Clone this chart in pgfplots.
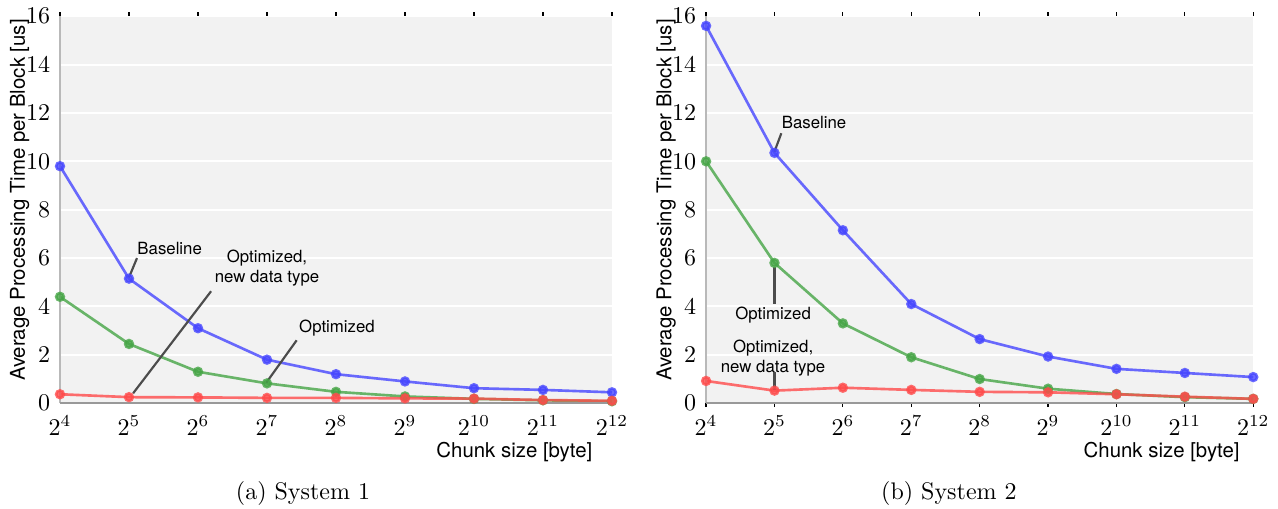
\documentclass[border=0pt]{standalone}
\usepackage{fontspec}
\usepackage{pgfplots}
\pgfplotsset{compat=1.18}
\usetikzlibrary{calc}
\newfontfamily\hv{TeX Gyre Heros}
\definecolor{cblue}{RGB}{70,70,255}
\definecolor{cgreen}{RGB}{70,165,70}
\definecolor{cred}{RGB}{255,75,75}
\definecolor{bggray}{RGB}{242,242,242}

\tikzset{
  ann/.style={draw=black!70, line width=0.9pt},
  lbl/.style={font=\hv\fontsize{7}{8.4}\selectfont, inner sep=0pt},
  big/.style={font=\hv\fontsize{8.5}{10}\selectfont, inner sep=0pt},
}
\pgfplotsset{
  sysplot/.style={
    scale only axis, height=161.25pt,
    xmin=4, xmax=12, ymin=0, ymax=16,
    xtick={4,...,12},
    xticklabels={$2^{4}$,$2^{5}$,$2^{6}$,$2^{7}$,$2^{8}$,$2^{9}$,$2^{10}$,$2^{11}$,$2^{12}$},
    ytick={0,2,...,16},
    axis background/.style={fill=bggray},
    ymajorgrids, grid style={white, line width=0.8pt},
    axis line style={draw=none},
    tick align=outside, major tick length=1.6pt,
    xtick style={black, line width=0.5pt},
    ytick style={draw=none},
    xticklabel pos=left,
    tick label style={font=\normalsize},
    xticklabel style={yshift=0pt},
    yticklabel style={xshift=1pt},
    ylabel={\hv Average Processing Time per Block [us]},
    ylabel style={font=\fontsize{8.5}{10}\selectfont, at={(rel axis cs:-0.073,0.525)}, anchor=center},
    every axis plot/.append style={line width=1.1pt, mark=*, mark size=1.6pt, opacity=0.8},
    clip=false,
    execute at end axis={
      \draw[gray!55, line width=0.6pt] (rel axis cs:0,0) -- (rel axis cs:0,1);
      \draw[gray!80, line width=0.8pt] (rel axis cs:0,0) -- (rel axis cs:1,0);
    },
  },
}

\begin{document}
\begin{tikzpicture}
% (a) System 1
\begin{axis}[sysplot, width=230pt, xtick pos=right]
\addplot[cblue, mark options={fill=cblue}] coordinates {(4,9.8)(5,5.15)(6,3.1)(7,1.8)(8,1.2)(9,0.9)(10,0.62)(11,0.55)(12,0.45)};
\addplot[cgreen, mark options={fill=cgreen}] coordinates {(4,4.4)(5,2.45)(6,1.3)(7,0.82)(8,0.47)(9,0.28)(10,0.18)(11,0.12)(12,0.08)};
\addplot[cred, mark options={fill=cred}] coordinates {(4,0.37)(5,0.25)(6,0.24)(7,0.22)(8,0.22)(9,0.2)(10,0.19)(11,0.13)(12,0.1)};
\draw[ann] (axis cs:5,5.2) -- (axis cs:5.116,6.0);
\node[anchor=west, lbl] at (axis cs:5.116,6.41) {Baseline};
\draw[ann] (axis cs:5.06,0.41) -- (axis cs:6.19,4.63);
\node[align=center, lbl] at (axis cs:7.0,5.6) {Optimized,\\new data type};
\draw[ann] (axis cs:6.99,0.85) -- (axis cs:7.43,2.6);
\node[anchor=west, lbl] at (axis cs:7.46,3.1) {Optimized};
\node[anchor=east, big] at ($(rel axis cs:1,0)+(-8pt,-20.4pt)$) {Chunk size [byte]};
\end{axis}
\node[font=\normalsize] at (101.25pt,-37.5pt) {(a) System 1};

% (b) System 2
\begin{axis}[sysplot, width=228pt, at={(269.2pt,0pt)}, xtick pos=both]
\addplot[cblue, mark options={fill=cblue}] coordinates {(4,15.6)(5,10.35)(6,7.15)(7,4.1)(8,2.65)(9,1.93)(10,1.42)(11,1.25)(12,1.08)};
\addplot[cgreen, mark options={fill=cgreen}] coordinates {(4,10.0)(5,5.8)(6,3.3)(7,1.9)(8,1.0)(9,0.6)(10,0.38)(11,0.25)(12,0.18)};
\addplot[cred, mark options={fill=cred}] coordinates {(4,0.92)(5,0.52)(6,0.64)(7,0.55)(8,0.47)(9,0.45)(10,0.37)(11,0.27)(12,0.18)};
\draw[ann] (axis cs:5,10.4) -- (axis cs:5.10,11.16);
\node[anchor=west, lbl] at (axis cs:5.10,11.62) {Baseline};
\draw[ann] (axis cs:5,5.65) -- (axis cs:5,4.12);
\node[lbl] at (axis cs:4.98,3.64) {Optimized};
\draw[ann] (axis cs:5,1.28) -- (axis cs:5,0.56);
\node[align=center, lbl] at (axis cs:4.98,1.86) {Optimized,\\new data type};
\node[anchor=east, big] at ($(rel axis cs:1,0)+(-5.5pt,-20.4pt)$) {Chunk size [byte]};
\end{axis}
\node[font=\normalsize] at (370.4pt,-37.5pt) {(b) System 2};
\pgfresetboundingbox
\useasboundingbox (-25pt,-43.75pt) rectangle (507.5pt,168pt);
\end{tikzpicture}
\end{document}
